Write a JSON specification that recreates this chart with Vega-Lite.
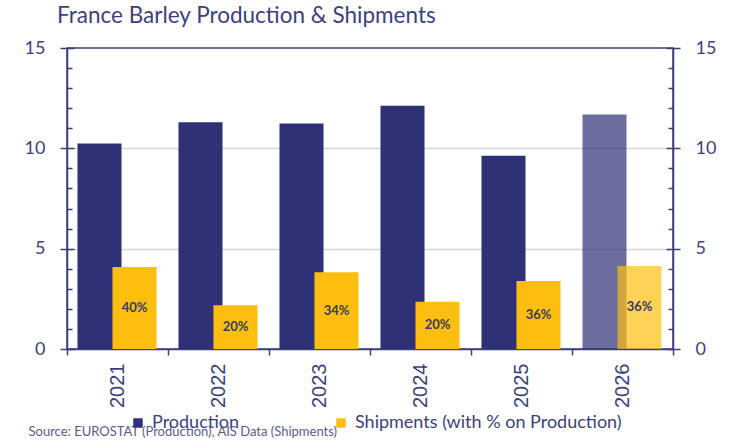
{
  "$schema": "https://vega.github.io/schema/vega-lite/v6.json",
  "width": 606,
  "height": 301,
  "autosize": {"type": "none"},
  "padding": {"left": 67, "top": 48, "right": 60, "bottom": 92},
  "background": "white",
  "title": {
    "text": "France Barley Production & Shipments",
    "anchor": "start",
    "frame": "group",
    "dx": -10,
    "offset": -6,
    "baseline": "alphabetic",
    "font": "Lato",
    "fontSize": 22.5,
    "fontWeight": "normal",
    "color": "#3d3f7d"
  },
  "data": {
    "values": [
      {"year": "2021", "production": 10.24, "shipments": 4.09, "label": "40%", "status": "Actual"},
      {"year": "2022", "production": 11.3, "shipments": 2.18, "label": "20%", "status": "Actual"},
      {"year": "2023", "production": 11.24, "shipments": 3.82, "label": "34%", "status": "Actual"},
      {"year": "2024", "production": 12.12, "shipments": 2.36, "label": "20%", "status": "Actual"},
      {"year": "2025", "production": 9.63, "shipments": 3.39, "label": "36%", "status": "Actual"},
      {"year": "2026", "production": 11.69, "shipments": 4.14, "label": "36%", "status": "Forecast"}
    ]
  },
  "encoding": {
    "x": {
      "field": "year",
      "type": "ordinal",
      "scale": {"paddingInner": 0, "paddingOuter": 0},
      "axis": {
        "title": "Source: EUROSTAT (Production), AIS Data (Shipments)",
        "titleAnchor": "start",
        "titleAlign": "left",
        "titleBaseline": "alphabetic",
        "titleX": -39,
        "titleY": 86,
        "titleFont": "Lato",
        "titleFontSize": 13,
        "titleFontWeight": "normal",
        "titleColor": "#5a5c8c",
        "labelAngle": -90,
        "labelFont": "Liberation Sans",
        "labelFontSize": 20,
        "labelColor": "#3d3f7d",
        "labelPadding": 8,
        "tickBand": "extent",
        "tickSize": 6,
        "tickColor": "#3d3f7d",
        "tickWidth": 1.5,
        "domainColor": "#3d3f7d",
        "domainWidth": 1.5,
        "grid": false
      }
    }
  },
  "layer": [
    {
      "mark": {"type": "bar", "width": {"band": 0.436}, "xOffset": -18},
      "encoding": {
        "y": {
          "field": "production",
          "type": "quantitative",
          "scale": {"domain": [0, 15], "nice": false},
          "axis": {
            "orient": "left",
            "title": null,
            "values": [0, 1, 2, 3, 4, 5, 6, 7, 8, 9, 10, 11, 12, 13, 14, 15],
            "labelExpr": "datum.value % 5 === 0 ? datum.label : ''",
            "labelFont": "Lato",
            "labelFontSize": 18,
            "labelColor": "#3d3f7d",
            "labelPadding": 29,
            "tickColor": "#3d3f7d",
            "tickWidth": 1.5,
            "tickSize": {"condition": {"test": "datum.value % 5 === 0", "value": -7}, "value": -5},
            "domainColor": "#3d3f7d",
            "domainWidth": 1.5,
            "grid": true,
            "gridColor": "#d6d6d6",
            "gridWidth": 1.5,
            "gridOpacity": {"condition": {"test": "datum.value === 5 || datum.value === 10", "value": 1}, "value": 0}
          }
        },
        "color": {
          "datum": "Production",
          "type": "nominal",
          "scale": {
            "domain": ["Production", "Shipments (with % on Production)"],
            "range": ["#2e3176", "#fdbe0f"]
          },
          "legend": {
            "orient": "none",
            "legendX": 62,
            "legendY": 366,
            "direction": "horizontal",
            "title": null,
            "padding": 0,
            "labelFont": "Lato",
            "labelFontSize": 18,
            "labelColor": "#3d3f7d",
            "labelOffset": 5,
            "labelLimit": 400,
            "symbolType": "square",
            "symbolSize": 90,
            "symbolStrokeWidth": 0,
            "columnPadding": 92
          }
        },
        "opacity": {"condition": {"test": "datum.status === 'Forecast'", "value": 0.7}, "value": 1}
      }
    },
    {
      "mark": {"type": "bar", "width": {"band": 0.436}, "xOffset": 17},
      "encoding": {
        "y": {
          "field": "shipments",
          "type": "quantitative",
          "scale": {"domain": [0, 15], "nice": false},
          "axis": {
            "orient": "right",
            "title": null,
            "values": [0, 1, 2, 3, 4, 5, 6, 7, 8, 9, 10, 11, 12, 13, 14, 15],
            "labelExpr": "datum.value % 5 === 0 ? datum.label : ''",
            "labelFont": "Lato",
            "labelFontSize": 18,
            "labelColor": "#3d3f7d",
            "labelPadding": 29,
            "tickColor": "#3d3f7d",
            "tickWidth": 1.5,
            "tickSize": {"condition": {"test": "datum.value % 5 === 0", "value": -7}, "value": -5},
            "domainColor": "#3d3f7d",
            "domainWidth": 1.5,
            "grid": false
          }
        },
        "color": {"datum": "Shipments (with % on Production)", "type": "nominal"},
        "opacity": {"condition": {"test": "datum.status === 'Forecast'", "value": 0.7}, "value": 1}
      }
    },
    {
      "mark": {"type": "text", "xOffset": 17, "font": "Lato", "fontSize": 13, "fontWeight": "bold", "color": "#3a3a5e", "baseline": "middle"},
      "encoding": {
        "y": {
          "field": "shipments",
          "type": "quantitative",
          "scale": {"domain": [0, 30], "nice": false},
          "axis": {
            "orient": "left",
            "title": null,
            "values": [0, 10, 20, 30],
            "labels": false,
            "domain": false,
            "grid": false,
            "tickSize": 7,
            "tickColor": "#3d3f7d",
            "tickWidth": 1.5
          }
        },
        "text": {"field": "label"}
      }
    },
    {
      "mark": {"type": "bar", "opacity": 0},
      "encoding": {
        "y": {
          "field": "shipments",
          "type": "quantitative",
          "scale": {"domain": [0, 15], "nice": false},
          "axis": {
            "orient": "right",
            "title": null,
            "values": [0, 5, 10, 15],
            "labels": false,
            "domain": false,
            "grid": false,
            "tickSize": 7,
            "tickColor": "#3d3f7d",
            "tickWidth": 1.5
          }
        }
      }
    }
  ],
  "resolve": {"scale": {"y": "independent"}, "axis": {"y": "independent"}},
  "config": {"view": {"stroke": "#3d3f7d", "strokeWidth": 1.5}}
}
